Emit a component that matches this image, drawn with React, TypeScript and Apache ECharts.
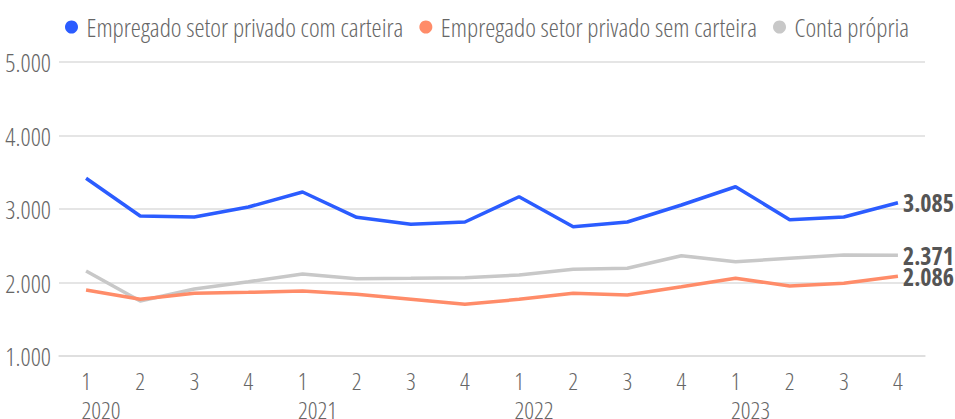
import React, { useEffect, useRef } from "react";
import * as echarts from "echarts";

const years = ["2020", "2021", "2022", "2023"];
const quarters = ["1", "2", "3", "4"];
const categories = years.flatMap((y) => quarters.map((q) => `${q}/${y}`));

const comCarteira = [3418, 2905, 2891, 3027, 3231, 2887, 2792, 2823, 3167, 2759, 2823, 3054, 3303, 2854, 2891, 3085];
const semCarteira = [1898, 1771, 1853, 1866, 1884, 1839, 1771, 1703, 1771, 1853, 1830, 1943, 2057, 1952, 1989, 2086];
const contaPropria = [2156, 1748, 1912, 2011, 2116, 2052, 2057, 2066, 2102, 2179, 2193, 2365, 2283, 2329, 2374, 2371];

const seriesNames = [
  "Empregado setor privado com carteira",
  "Empregado setor privado sem carteira",
  "Conta própria",
];
const colors = ["#2b5cff", "#ff8c69", "#c8c8c8"];

const FONT = "'Open Sans'";
const TEXT = "#666";

const fmt = (v: number) => v.toLocaleString("de-DE");

let platformSet = false;
function setupCondensed() {
  if (platformSet) return;
  platformSet = true;
  const style = document.createElement("style");
  style.textContent = "#root svg text, #root svg tspan { font-stretch: 75% !important; }";
  document.head.appendChild(style);
  const canvas = document.createElement("canvas");
  const ctx = canvas.getContext("2d") as any;
  echarts.setPlatformAPI({
    measureText(text: string, font?: string) {
      ctx.font = font || "12px sans-serif";
      ctx.fontStretch = "condensed";
      return ctx.measureText(text);
    },
  } as any);
}

export default function App() {
  const ref = useRef<HTMLDivElement>(null);
  useEffect(() => {
    document.body.style.margin = "0";
    setupCondensed();
    const chart = echarts.init(ref.current!, null, { renderer: "svg" });
    const data = [comCarteira, semCarteira, contaPropria];
    chart.setOption({
      animation: false,
      textStyle: { fontFamily: FONT, fontWeight: 300 },
      color: colors,
      legend: {
        left: 60,
        top: 9,
        icon: "circle",
        itemWidth: 16,
        itemHeight: 13,
        itemGap: 16,
        textStyle: { fontSize: 25.5, color: TEXT, fontFamily: FONT, fontWeight: 300, padding: [0, 0, 0, 2] },
        data: seriesNames,
      },
      grid: { left: 59, right: 30, top: 62, bottom: 63, containLabel: false, outerBoundsMode: "none" },
      xAxis: {
        type: "category",
        data: categories,
        boundaryGap: true,
        axisLine: { lineStyle: { color: "#dddddd", width: 1.5 } },
        axisTick: { alignWithLabel: true, inside: true, length: 13, lineStyle: { color: "#dddddd", width: 1.5 } },
        axisLabel: {
          margin: 10,
          interval: 0,
          formatter: (v: string) => {
            const [q, y] = v.split("/");
            return q === "1" ? `{q|${q}}\n{y|${y}}` : `{q|${q}}`;
          },
          rich: {
            q: { fontSize: 24, color: TEXT, lineHeight: 29, fontFamily: FONT, fontWeight: 300 },
            y: { fontSize: 24, color: TEXT, lineHeight: 29, fontFamily: FONT, fontWeight: 300, padding: [0, 0, 0, 30] },
          },
        },
      },
      yAxis: {
        type: "value",
        min: 1000,
        max: 5000,
        interval: 1000,
        axisLine: { show: false },
        axisTick: { show: false },
        splitLine: { lineStyle: { color: "#dddddd", width: 1.5 } },
        axisLabel: { fontSize: 25, color: TEXT, margin: 8, formatter: (v: number) => fmt(v), fontFamily: FONT, fontWeight: 300 },
      },
      series: seriesNames.map((name, i) => ({
        name,
        type: "line",
        data: data[i],
        showSymbol: false,
        symbol: "none",
        lineStyle: { width: 3.5, color: colors[i] },
        itemStyle: { color: colors[i] },
        z: 3 - i,
        endLabel: {
          show: true,
          formatter: (p: any) => fmt(p.value),
          fontSize: 24,
          fontWeight: "bold",
          color: "#555",
          distance: 5,
          fontFamily: FONT,
        },
      })),
    });
    return () => chart.dispose();
  }, []);
  return <div ref={ref} style={{ width: 955, height: 419 }} />;
}
